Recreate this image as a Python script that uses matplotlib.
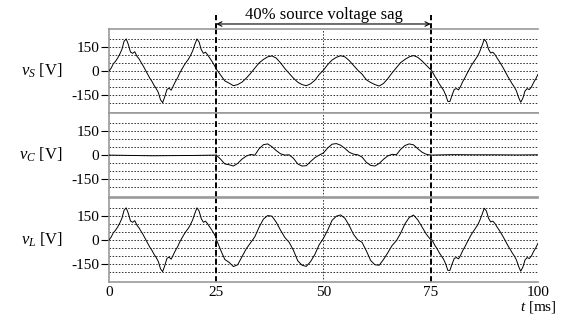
import numpy as np
import matplotlib
matplotlib.use("Agg")
import matplotlib.pyplot as plt
from matplotlib.transforms import blended_transform_factory

plt.rcParams["font.family"] = "Liberation Serif"
plt.rcParams["mathtext.fontset"] = "custom"
plt.rcParams["mathtext.rm"] = "Liberation Serif"
plt.rcParams["mathtext.it"] = "Liberation Serif:italic"
plt.rcParams["axes.unicode_minus"] = False

# ---- data (time in ms, voltage in V) ----------------------------------------
t_pre = np.arange(0, 25.01, 0.5)
t_sag = np.arange(25, 75.01, 1.0)
t_post = np.arange(75, 100.01, 0.5)
t_vc_pre = [0, 5, 10, 15, 20, 25]
t_vc_post = [75, 80, 85, 90, 95, 100]

# source voltage (load voltage is the same outside the sag)
vs_pre = [0, 18, 45, 60, 80, 105, 135, 185, 200, 165,
          118, 110, 120, 92, 75, 52, 30, 5, -20, -45,
          -65, -90, -110, -135, -180, -198, -160, -115, -108, -120,
          -92, -65, -42, -12, 12, 35, 55, 73, 97, 125,
          165, 200, 180, 133, 110, 117, 100, 80, 60, 38,
          12]
vs_sag = [12, -25, -62, -76, -92, -85, -70, -45, -15, 18,
          50, 72, 88, 94, 80, 50, 15, -15, -45, -70,
          -85, -92, -80, -58, -22, 5, 40, 68, 85, 95,
          88, 65, 35, 5, -20, -55, -72, -85, -94, -78,
          -48, -12, 20, 52, 72, 88, 96, 85, 62, 35,
          8]
vs_post = [12, -10, -35, -55, -80, -100, -120, -150, -190, -190,
           -150, -115, -110, -118, -95, -65, -42, -15, 10, 35,
           55, 75, 95, 125, 160, 198, 180, 135, 112, 117,
           102, 80, 60, 38, 15, -10, -35, -57, -80, -100,
           -125, -165, -195, -170, -125, -110, -116, -100, -72, -50,
           -22]

# compensator voltage
vc_pre = [0, -2, -4, -3, -2, 0]
vc_sag = [0, -25, -55, -60, -68, -52, -25, -6, 4, 0,
          40, 65, 70, 52, 28, 8, 0, 2, -20, -55,
          -68, -66, -40, -16, 0, 14, 45, 68, 72, 62,
          42, 18, 6, 2, -12, -45, -64, -68, -52, -26,
          -5, 5, 2, 36, 60, 70, 64, 40, 18, 5,
          0]
vc_post = [0, 3, 2, 2, 1, 2]

# load voltage during the sag
vl_sag = [5, -62, -122, -140, -166, -155, -105, -55, -18, 20,
          80, 130, 152, 148, 110, 60, 15, -15, -65, -130,
          -158, -165, -135, -90, -30, 10, 62, 122, 148, 156,
          135, 90, 35, 0, -15, -68, -128, -155, -158, -122,
          -80, -35, -5, 42, 100, 140, 155, 125, 80, 35,
          2]

y_ticks = [-150, 0, 150]
y_grid = [-200, -150, -100, -50, 0, 50, 100, 150, 200]
x_ticks = [0, 25, 50, 75, 100]
sag_start, sag_end = 25, 75

panels = [
    (r"$v_S$ [V]", [(t_pre, vs_pre), (t_sag, vs_sag), (t_post, vs_post)]),
    (r"$v_C$ [V]", [(t_vc_pre, vc_pre), (t_sag, vc_sag), (t_vc_post, vc_post)]),
    (r"$v_L$ [V]", [(t_pre, vs_pre), (t_sag, vl_sag), (t_post, vs_post)]),
]

fig = plt.figure(figsize=(5.65, 3.2), dpi=100)
left, width, h = 0.193, 0.759, 0.2625
bottoms = [0.647, 0.384, 0.119]
YL = 262
dot = dict(color="#333333", lw=0.7, ls=(0, (1.6, 1.6)), zorder=1)

axes = []
for (label, segs), b in zip(panels, bottoms):
    ax = fig.add_axes([left, b, width, h])
    ax.set_xlim(0, 100)
    ax.set_ylim(-YL, YL)
    for g in y_grid:
        ax.axhline(g, **dot)
    for xv in [50, 100]:
        ax.axvline(xv, **dot)
    for xv in [sag_start, sag_end]:
        ax.axvline(xv, color="k", lw=1.4, ls=(0, (3, 1.5)), zorder=2)
    for tt, vv in segs:
        ax.plot(tt, vv, color="k", lw=0.7, zorder=3)
    ax.set_yticks(y_ticks)
    ax.set_yticklabels([str(v) for v in y_ticks])
    ax.set_xticks(x_ticks)
    ax.tick_params(axis="y", direction="out", length=6, width=0.8,
                   pad=1, labelsize=11)
    ax.tick_params(axis="x", length=0, labelsize=11, pad=3)
    ax.tick_params(axis="x", labelbottom=False)
    for s in ["top", "bottom", "left"]:
        ax.spines[s].set_color("#999999")
        ax.spines[s].set_linewidth(1.2)
    ax.spines["right"].set_visible(False)
    tr = blended_transform_factory(ax.transAxes, ax.transData)
    ax.text(-0.108, 0, label, transform=tr, ha="right", va="center",
            fontsize=12)
    axes.append(ax)

axes[-1].tick_params(axis="x", labelbottom=True)

# sag markers above the top panel
ax1 = axes[0]
for xv in [sag_start, sag_end]:
    ax1.plot([xv, xv], [YL, 350], color="k", lw=1.4, ls=(0, (3, 1.5)),
             clip_on=False)
ax1.annotate("", xy=(sag_start, 293), xytext=(sag_end, 293),
             arrowprops=dict(arrowstyle="<->", lw=0.8, color="k",
                             shrinkA=0, shrinkB=0, mutation_scale=8),
             annotation_clip=False)
ax1.text(50, 352, "40% source voltage sag", ha="center", va="center",
         fontsize=12)

fig.text(0.985, 0.04, r"$t$ [ms]", ha="right", va="center", fontsize=11)

fig.savefig("out.png", dpi=100, facecolor="white")
